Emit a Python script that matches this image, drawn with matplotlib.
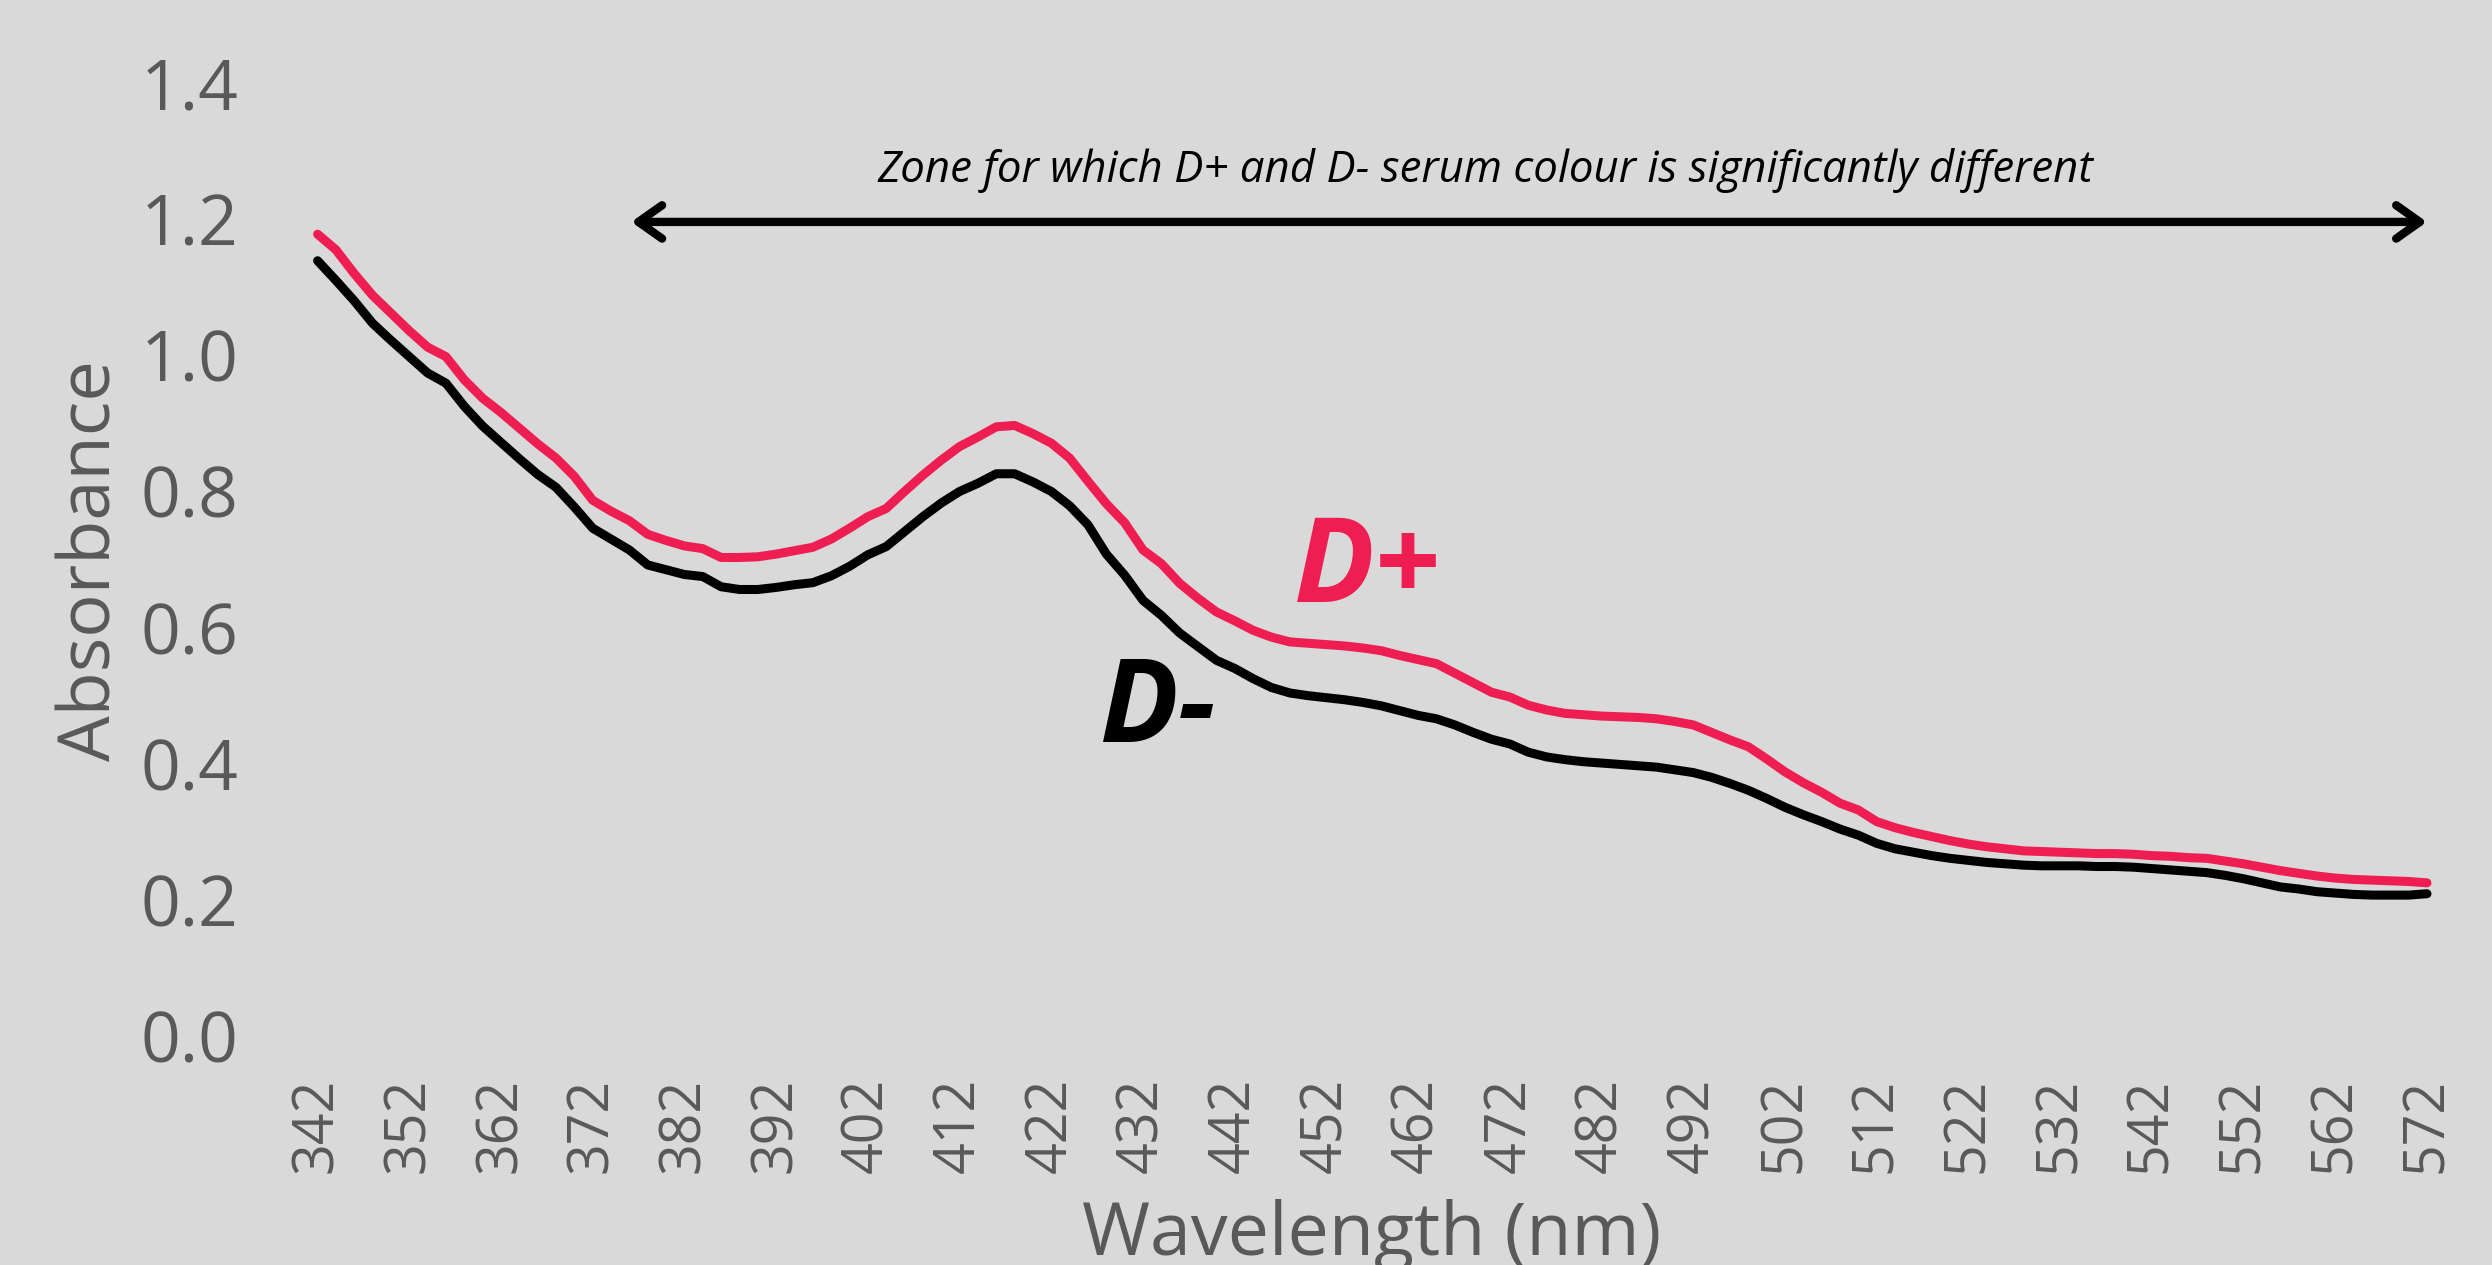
import matplotlib
matplotlib.use("Agg")
import matplotlib.pyplot as plt
import numpy as np

# ---- data ----
wavelength = list(range(342, 573, 2))
d_plus = [1.178, 1.155, 1.120, 1.088, 1.062, 1.036, 1.012, 0.998, 0.964, 0.937,
          0.916, 0.893, 0.870, 0.849, 0.822, 0.787, 0.771, 0.757, 0.737, 0.728,
          0.720, 0.716, 0.703, 0.703, 0.704, 0.708, 0.713, 0.718, 0.730, 0.746,
          0.763, 0.775, 0.800, 0.824, 0.846, 0.866, 0.880, 0.895, 0.897, 0.885,
          0.871, 0.849, 0.815, 0.782, 0.754, 0.714, 0.694, 0.665, 0.643, 0.623,
          0.610, 0.596, 0.586, 0.579, 0.577, 0.575, 0.573, 0.570, 0.566, 0.559,
          0.553, 0.547, 0.533, 0.519, 0.505, 0.498, 0.486, 0.479, 0.474, 0.472,
          0.470, 0.469, 0.468, 0.466, 0.462, 0.457, 0.446, 0.435, 0.425, 0.407,
          0.388, 0.372, 0.358, 0.342, 0.332, 0.315, 0.306, 0.299, 0.293, 0.287,
          0.282, 0.278, 0.275, 0.272, 0.271, 0.270, 0.269, 0.268, 0.268, 0.267,
          0.265, 0.264, 0.262, 0.261, 0.257, 0.253, 0.248, 0.243, 0.239, 0.235,
          0.232, 0.230, 0.229, 0.228, 0.227, 0.225]
d_minus = [1.139, 1.110, 1.080, 1.047, 1.022, 0.998, 0.974, 0.959, 0.925, 0.896,
           0.872, 0.848, 0.825, 0.806, 0.777, 0.746, 0.730, 0.714, 0.692, 0.685,
           0.678, 0.675, 0.660, 0.656, 0.656, 0.659, 0.663, 0.666, 0.676, 0.690,
           0.707, 0.719, 0.741, 0.763, 0.783, 0.800, 0.812, 0.826, 0.826, 0.814,
           0.800, 0.779, 0.751, 0.708, 0.677, 0.640, 0.618, 0.592, 0.572, 0.552,
           0.540, 0.525, 0.512, 0.504, 0.500, 0.497, 0.494, 0.490, 0.485, 0.478,
           0.471, 0.466, 0.457, 0.446, 0.436, 0.429, 0.417, 0.410, 0.406, 0.403,
           0.401, 0.399, 0.397, 0.395, 0.391, 0.387, 0.380, 0.371, 0.361, 0.349,
           0.336, 0.325, 0.315, 0.304, 0.295, 0.283, 0.275, 0.270, 0.265, 0.261,
           0.258, 0.255, 0.253, 0.251, 0.250, 0.250, 0.250, 0.249, 0.249, 0.248,
           0.246, 0.244, 0.242, 0.240, 0.236, 0.231, 0.225, 0.219, 0.216, 0.212,
           0.210, 0.208, 0.207, 0.207, 0.207, 0.209]
x_ticks = list(range(342, 573, 10))
y_ticks = [0.0, 0.2, 0.4, 0.6, 0.8, 1.0, 1.2, 1.4]
zone_start, zone_end, zone_level = 376.2, 572, 1.196

BG = "#d9d9d9"
RED = "#ee1e52"
GREY = "#595959"
FONT = ["Open Sans", "DejaVu Sans"]
plt.rcParams["font.family"] = FONT

W, H = 2492, 1265
fig = plt.figure(figsize=(W / 100, H / 100), dpi=100, facecolor=BG)
L, R = 280, 2465
y0_px, top_px = 1036, 15
ax = fig.add_axes([L / W, (H - y0_px) / H, (R - L) / W, (y0_px - top_px) / H])
ax.set_facecolor(BG)

ppn = 9.172
ax.set_xlim(342 - (317.6 - L) / ppn, 572 + (R - 2427) / ppn)
ax.set_ylim(0, 1.5)

ax.plot(wavelength, d_minus, color="black", lw=6.5, solid_capstyle="round", zorder=3)
ax.plot(wavelength, d_plus, color=RED, lw=6.5, solid_capstyle="round", zorder=4)

for s in ax.spines.values():
    s.set_visible(False)
ax.set_xticks(x_ticks)
ax.set_xticklabels([str(v) for v in x_ticks], rotation=90)
ax.set_yticks(y_ticks)
ax.set_yticklabels([f"{v:.1f}" for v in y_ticks])
ax.tick_params(axis="x", length=0, pad=30, labelsize=40, colors=GREY)
ax.tick_params(axis="y", length=0, pad=30, labelsize=50, colors=GREY)

ax.annotate("", xy=(zone_end, zone_level), xytext=(zone_start, zone_level),
            arrowprops=dict(arrowstyle="<->,head_length=0.85,head_width=0.6",
                            lw=6, color="black", mutation_scale=20,
                            shrinkA=0, shrinkB=0, capstyle="round",
                            joinstyle="round"))
ax.text(469.3, 1.272, "Zone for which D+ and D- serum colour is significantly different",
        ha="center", va="center", fontsize=31.5, style="italic", color="black")

ax.text(448.5, 0.638, "D+", ha="left", va="baseline", fontsize=86,
        fontweight="bold", style="italic", color=RED)
ax.text(427.3, 0.432, "D-", ha="left", va="baseline", fontsize=84,
        fontweight="bold", style="italic", color="black")

fig.text(1372 / W, 10 / H, "Wavelength (nm)", ha="center", va="baseline",
         fontsize=53, color=GREY)
fig.text(92 / W, (H - 561) / H, "Absorbance", ha="center", va="center",
         rotation=90, fontsize=52, color=GREY)

fig.savefig("out.png", dpi=100, facecolor=BG)
